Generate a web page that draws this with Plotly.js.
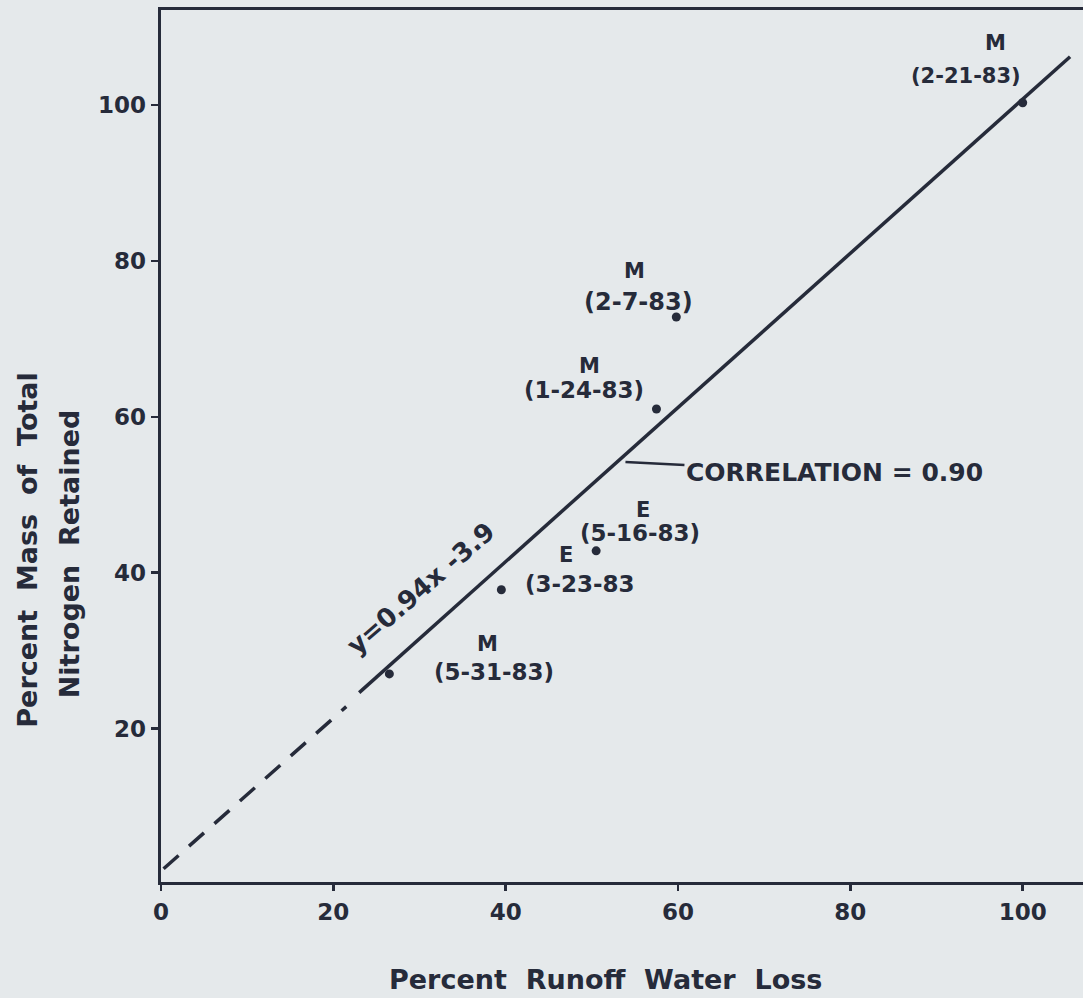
<!DOCTYPE html>
<html>
<head>
<meta charset="utf-8">
<script src="https://cdn.plot.ly/plotly-3.0.1.min.js"></script>
<style>
html,body{margin:0;padding:0;overflow:hidden;background:#e5e9eb;}
#chart{width:1083px;height:998px;}
</style>
</head>
<body>
<div id="chart"></div>
<script>
// Data
const pointX = [100, 59.8, 57.5, 50.5, 39.5, 26.5];
const pointY = [100.3, 72.8, 61, 42.8, 37.8, 27];
const pointType = ["M", "M", "M", "E", "E", "M"];
const pointDate = ["(2-21-83)", "(2-7-83)", "(1-24-83)", "(5-16-83)", "(3-23-83", "(5-31-83)"];

const fitSolidX = [23, 105.5];
const fitSolidY = [24.6, 106.2];
const fitDashX = [0.3, 21.5];
const fitDashY = [2.0, 22.8];

const xTicks = [0, 20, 40, 60, 80, 100];
const yTicks = [20, 40, 60, 80, 100];

const equationText = "y=0.94x -3.9";
const correlationText = "CORRELATION = 0.90";
const xTitle = "Percent  Runoff  Water  Loss";
const yTitle1 = "Percent  Mass  of  Total";
const yTitle2 = "Nitrogen  Retained";

const ink = "#262b3a";
const paper = "#e5e9eb";
const fontFam = "DejaVu Sans, Liberation Sans, sans-serif";

const traces = [
  {x: fitDashX, y: fitDashY, mode: "lines", line: {color: ink, width: 3.5, dash: "20px,14px"}, hoverinfo: "skip"},
  {x: fitSolidX, y: fitSolidY, mode: "lines", line: {color: ink, width: 3.5}, hoverinfo: "skip"},
  {x: pointX, y: pointY, mode: "markers", marker: {color: ink, size: 9}, hoverinfo: "skip"}
];

// label layout (pixels) relative to each point: [typeDx, typeDy, dateDx, dateDy, dateSize]
const labelLayout = [
  [-27, -60, -57, -27, 21],
  [-42, -46, -38, -15, 24],
  [-67, -43, -72, -19, 23],
  [47, -41, 44, -18, 23],
  [65, -35, 79, -6, 23],
  [98, -30, 105, -2, 23]
];

const annotations = [];
for (let i = 0; i < pointX.length; i++) {
  const o = labelLayout[i];
  annotations.push({x: pointX[i], y: pointY[i], xref: "x", yref: "y", text: pointType[i], showarrow: false,
    xanchor: "center", yanchor: "middle",
    xshift: o[0], yshift: -o[1], font: {family: fontFam, size: 21, color: ink, weight: "bold"}});
  annotations.push({x: pointX[i], y: pointY[i], xref: "x", yref: "y", text: pointDate[i], showarrow: false,
    xanchor: "center", yanchor: "middle",
    xshift: o[2], yshift: -o[3], font: {family: fontFam, size: o[4], color: ink, weight: "bold"}});
}
annotations.push({x: 30.2, y: 38.0, xref: "x", yref: "y", text: equationText, showarrow: false, textangle: -41,
  xanchor: "center", yanchor: "middle",
  font: {family: fontFam, size: 26, color: ink, weight: "bold"}});
annotations.push({x: 53.9, y: 54.2, xref: "x", yref: "y", text: correlationText, showarrow: true, arrowhead: 0,
  arrowwidth: 2.5, arrowcolor: ink, ax: 209, ay: 11, standoff: 0,
  font: {family: fontFam, size: 25, color: ink, weight: "bold"}});
annotations.push({x: 0.4826, y: -0.112, xref: "paper", yref: "paper", text: xTitle, showarrow: false,
  xanchor: "center", yanchor: "middle",
  font: {family: fontFam, size: 27, color: ink, weight: "bold"}});
annotations.push({x: -0.1443, y: 0.381, xref: "paper", yref: "paper", text: yTitle1, showarrow: false, textangle: -90,
  xanchor: "center", yanchor: "middle",
  font: {family: fontFam, size: 27, color: ink, weight: "bold"}});
annotations.push({x: -0.0998, y: 0.377, xref: "paper", yref: "paper", text: yTitle2, showarrow: false, textangle: -90,
  xanchor: "center", yanchor: "middle",
  font: {family: fontFam, size: 27, color: ink, weight: "bold"}});

const layout = {
  width: 1083, height: 998,
  margin: {l: 161, r: 0, t: 10, b: 116},
  paper_bgcolor: paper, plot_bgcolor: paper,
  showlegend: false,
  xaxis: {range: [0, 107], tickvals: xTicks, ticktext: xTicks.map(String), showgrid: false, zeroline: false,
    showline: true, linecolor: ink, linewidth: 3, mirror: true, ticks: "outside", ticklen: 6, tickwidth: 2.5, tickcolor: ink,
    ticklabelstandoff: 1, tickfont: {family: fontFam, size: 23, color: ink, weight: "bold"}},
  yaxis: {range: [0.3, 112.2], tickvals: yTicks, ticktext: yTicks.map(String), showgrid: false, zeroline: false,
    showline: true, linecolor: ink, linewidth: 3.5, ticks: "outside", ticklen: 7, tickwidth: 2.5, tickcolor: ink,
    ticklabelstandoff: 0, tickfont: {family: fontFam, size: 23, color: ink, weight: "bold"}},
  annotations: annotations
};

Plotly.newPlot("chart", traces, layout, {displayModeBar: false, staticPlot: true});
</script>
</body>
</html>
